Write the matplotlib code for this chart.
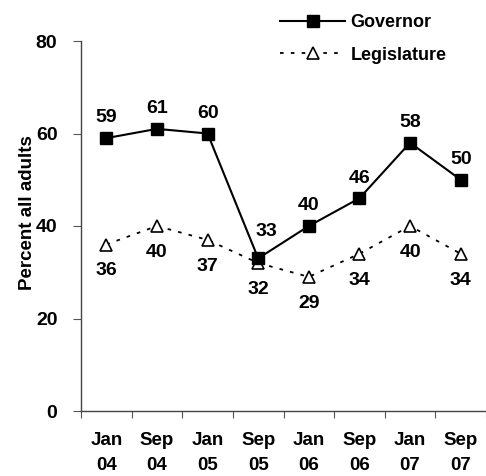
import matplotlib
matplotlib.use("Agg")
import matplotlib.pyplot as plt

categories = ["Jan\n04", "Sep\n04", "Jan\n05", "Sep\n05", "Jan\n06", "Sep\n06", "Jan\n07", "Sep\n07"]
governor = [59, 61, 60, 33, 40, 46, 58, 50]
legislature = [36, 40, 37, 32, 29, 34, 40, 34]

plt.rcParams['font.family'] = ['Liberation Sans', 'DejaVu Sans']
plt.rcParams['font.weight'] = 'bold'

fig = plt.figure(figsize=(4.86, 4.76), dpi=100)
ax = fig.add_axes([81/486, 65/476, 1 - 81/486, 370/476])

x = list(range(len(categories)))
ax.plot(x, governor, color='black', lw=1.5, marker='s', ms=8,
        mfc='black', mec='black', label='Governor', zorder=3)
ax.plot(x, legislature, color='black', lw=1.3, ls=(0, (2, 4)), marker='^', ms=8,
        mfc='white', mec='black', mew=1.2, label='Legislature', zorder=2)

for xi, v in zip(x, governor):
    dx, dy = (6, 19) if v == 33 else (0, 14.5)
    ax.annotate(str(v), (xi, v), xytext=(dx, dy), textcoords='offset points',
                ha='center', va='center', fontsize=14, fontweight='bold')
for xi, v in zip(x, legislature):
    ax.annotate(str(v), (xi, v), xytext=(0, -19), textcoords='offset points',
                ha='center', va='center', fontsize=14, fontweight='bold')

ax.set_ylim(0, 80)
ax.set_yticks([0, 20, 40, 60, 80])
ax.set_xlim(-0.5, 7.38)
ax.set_xticks([i - 0.5 for i in range(9)])
ax.set_xticklabels([])
ax.set_xticks(x, minor=True)
ax.set_xticklabels(categories, minor=True, fontsize=13.5, fontweight='bold', linespacing=1.6)
ax.tick_params(axis='x', which='minor', length=0, pad=15)
ax.tick_params(axis='x', which='major', length=5, direction='out', color='#555555')
ax.tick_params(axis='y', length=6, direction='out', color='#555555', labelsize=14, pad=11)
for lab in ax.get_yticklabels():
    lab.set_fontweight('bold')

for s in ['top', 'right']:
    ax.spines[s].set_visible(False)
for s in ['left', 'bottom']:
    ax.spines[s].set_color('#444444')
    ax.spines[s].set_linewidth(1.0)

ax.set_ylabel('Percent all adults', fontsize=13.5, fontweight='bold')
ax.yaxis.set_label_coords((36 - 81) / 405, (411 - 213) / 370)

fig.legend(loc='upper left', bbox_to_anchor=(264/486, 1 + 2/476), frameon=False,
           handlelength=3.6, handletextpad=0.3, labelspacing=0.85,
           prop={'weight': 'bold', 'size': 13})

fig.savefig('out.png', dpi=100)
